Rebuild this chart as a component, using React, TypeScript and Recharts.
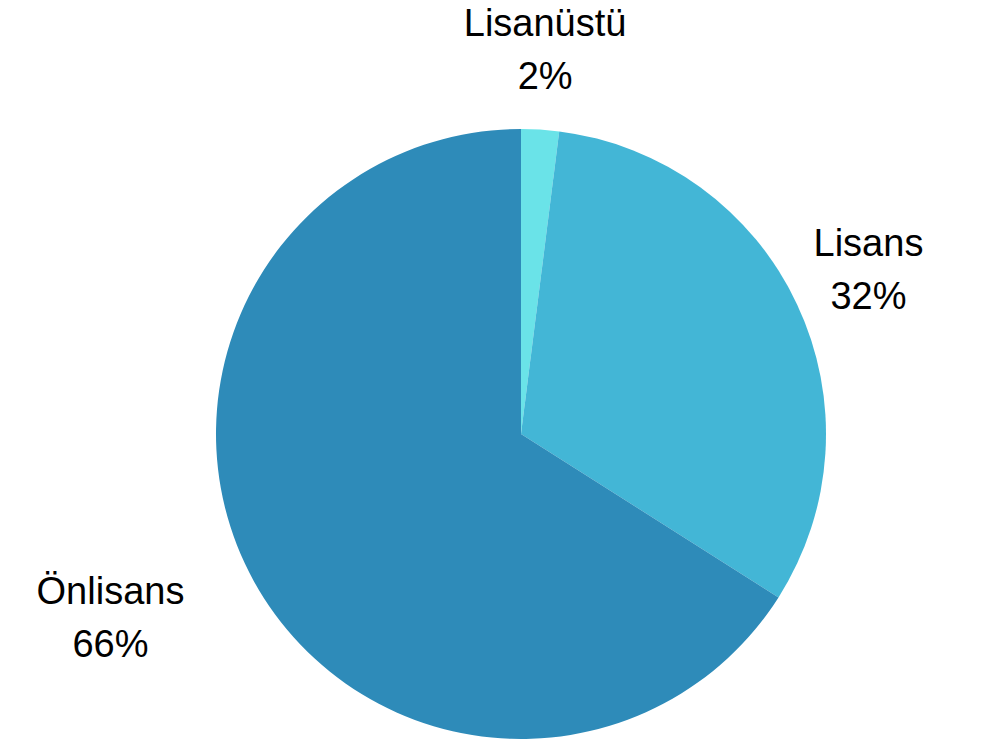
import { PieChart, Pie, Cell } from "recharts";

const categories = ["Lisanüstü", "Lisans", "Önlisans"];
const shares = [2, 32, 66];
const colors = ["#6ae3e8", "#43b6d6", "#2e8bb9"];

const chartData = categories.map((name, i) => ({ name, value: shares[i] }));

const RAD = Math.PI / 180;

// two-line label: name above, percent below
function renderLabel(props: any) {
  const { cx, cy, midAngle, outerRadius, name, value } = props;
  const r = outerRadius + 79;
  let x = cx + r * Math.cos(-midAngle * RAD);
  const y = cy + r * Math.sin(-midAngle * RAD);
  if (x < cx) x -= 74;
  return (
    <text
      x={x}
      y={y}
      textAnchor="middle"
      fill="#000"
      fontSize={38}
      fontFamily="'Liberation Sans', Arial, sans-serif"
    >
      <tspan x={x} y={y - 15}>
        {name}
      </tspan>
      <tspan x={x} y={y + 38}>
        {value}%
      </tspan>
    </text>
  );
}

export default function App() {
  return (
    <div style={{ position: "absolute", left: 0, top: 0, background: "#fff" }}>
      <PieChart width={989} height={739}>
        <Pie
          data={chartData}
          dataKey="value"
          nameKey="name"
          cx={516}
          cy={429}
          outerRadius={305}
          startAngle={90}
          endAngle={-270}
          stroke="none"
          label={renderLabel}
          labelLine={false}
          isAnimationActive={false}
        >
          {chartData.map((d, i) => (
            <Cell key={d.name} fill={colors[i]} />
          ))}
        </Pie>
      </PieChart>
    </div>
  );
}
